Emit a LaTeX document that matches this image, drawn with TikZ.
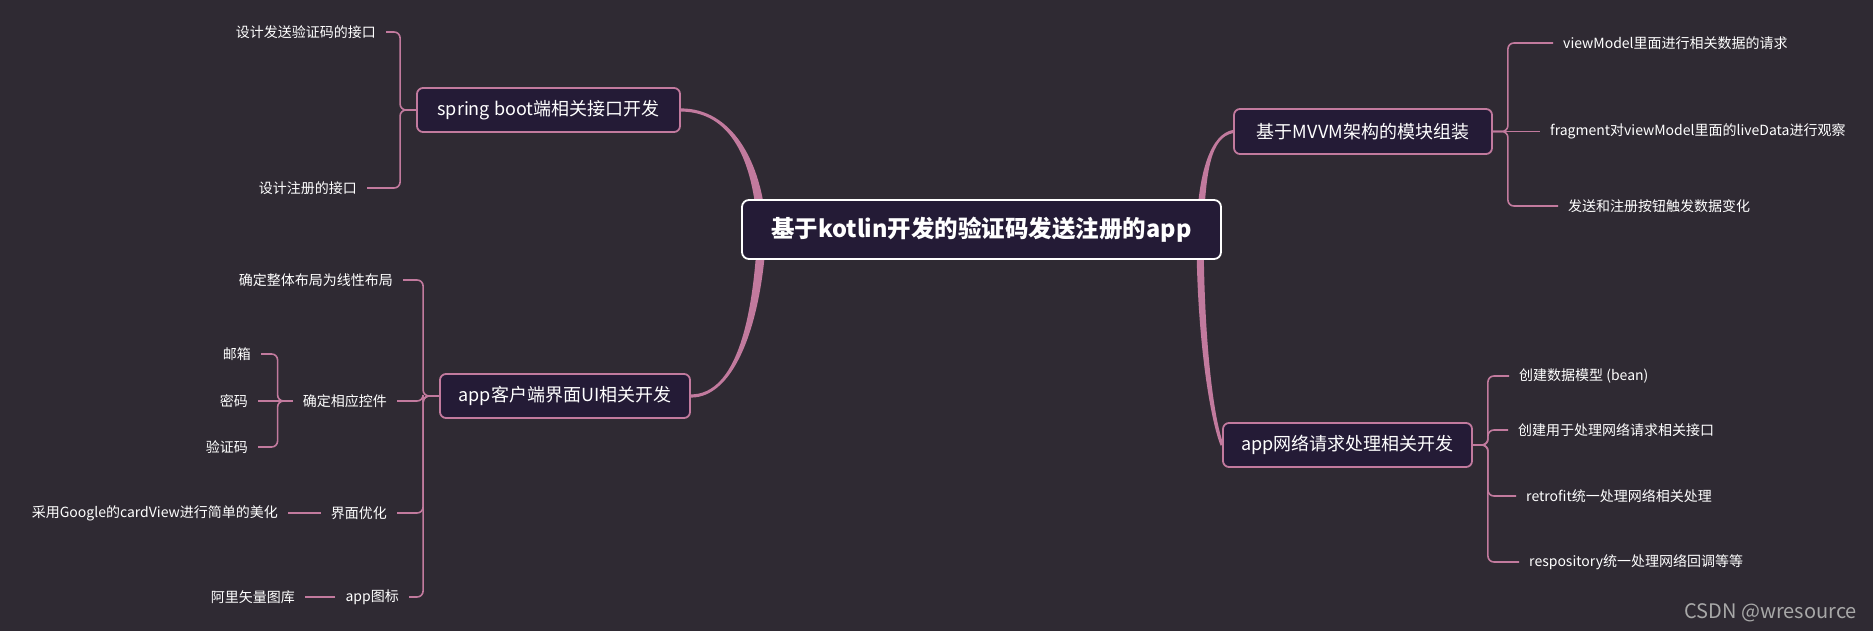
\documentclass[tikz,border=0pt]{standalone}
\usepackage{fontspec}
\setmainfont{Noto Sans CJK SC}
\usetikzlibrary{calc}
\pgfdeclarelayer{trunks}
\pgfsetlayers{trunks,main}
\definecolor{bgc}{HTML}{2F2A33}
\definecolor{boxc}{HTML}{241B36}
\definecolor{linec}{HTML}{C27A9E}
\definecolor{wmc}{HTML}{A8A8A8}
\tikzset{
  br/.style={draw=linec, line width=1.6pt, rounded corners=6pt},
  trunk/.style={fill=linec, draw=none},
  branchbox/.style={draw=linec, line width=1.8pt, fill=boxc, rounded corners=6pt, text=white,
    font=\fontsize{18}{20}\selectfont, inner sep=0pt},
  rootbox/.style={draw=white, line width=1.8pt, fill=boxc, rounded corners=7pt, text=white,
    font=\bfseries\fontsize{23.5}{26}\selectfont, minimum width=479pt, minimum height=59pt, inner sep=0pt},
  leaf/.style={text=white, font=\fontsize{14}{16}\selectfont, inner xsep=10pt, inner ysep=2pt},
  leafL/.style={leaf, anchor=east},
  leafR/.style={leaf, anchor=west},
}
\begin{document}
\begin{tikzpicture}[x=1pt, y=-1pt]
\begin{pgfonlayer}{trunks}
\fill[bgc] (0,0) rectangle (1873,631);
\end{pgfonlayer}
\useasboundingbox (0,0) rectangle (1873,631);

% trunk anchor points inside the root box
\coordinate (rL) at (762,230);
\coordinate (rR) at (1200,230);

% root
\node[rootbox] (root) at (981.5,229.5) {基于kotlin开发的验证码发送注册的app};

% branch boxes
\node[branchbox, minimum width=263pt, minimum height=44pt] (sb) at (548.5,110) {spring boot端相关接口开发};
\node[branchbox, minimum width=250pt, minimum height=44pt] (ui) at (565,396) {app客户端界面UI相关开发};
\node[branchbox, minimum width=258pt, minimum height=45pt] (mv) at (1363,131.5) {基于MVVM架构的模块组装};
\node[branchbox, minimum width=249pt, minimum height=44pt] (net) at (1347.5,445) {app网络请求处理相关开发};

% tapered trunks (behind the boxes)
\begin{pgfonlayer}{trunks}
\fill[trunk] ($(sb.east)+(0,-1.6)$) .. controls ($(sb.east)+(50,-1.6)$) and ($(rL)+(0.5,-70)$) .. ($(rL)+(4.5,0)$)
  -- ($(rL)+(-4.5,0)$) .. controls ($(rL)+(-8.5,-70)$) and ($(sb.east)+(50,1.6)$) .. ($(sb.east)+(0,1.6)$) -- cycle;
\fill[trunk] ($(rL)+(4.5,0)$) .. controls ($(rL)+(0.5,90)$) and ($(ui.east)+(45,1.6)$) .. ($(ui.east)+(0,1.6)$)
  -- ($(ui.east)+(0,-1.6)$) .. controls ($(ui.east)+(45,-1.6)$) and ($(rL)+(-8.5,90)$) .. ($(rL)+(-4.5,0)$) -- cycle;
\fill[trunk] ($(rR)+(-3.6,0)$) .. controls ($(rR)+(-1.6,-60)$) and ($(mv.west)+(-22,2.4)$) .. ($(mv.west)+(0,-1.6)$)
  -- ($(mv.west)+(0,1.6)$) .. controls ($(mv.west)+(-22,5.6)$) and ($(rR)+(5.6,-60)$) .. ($(rR)+(3.6,0)$) -- cycle;
\fill[trunk] ($(rR)+(3.6,0)$) .. controls ($(rR)+(3.6,110)$) and ($(net.west)+(-8.5,-25.6)$) .. ($(net.west)+(1.5,-0.6)$)
  -- ($(net.west)+(-1.5,0.6)$) .. controls ($(net.west)+(-11.5,-24.4)$) and ($(rR)+(-3.6,110)$) .. ($(rR)+(-3.6,0)$) -- cycle;
\end{pgfonlayer}

% left branch 1 leaves
\node[leafL] (c11) at (386,32) {设计发送验证码的接口};
\node[leafL] (c12) at (367,188) {设计注册的接口};
\draw[br] (sb.west) -- ++(-16,0) |- (c11.east);
\draw[br] (sb.west) -- ++(-16,0) |- (c12.east);

% left branch 2 leaves
\node[leafL] (c21) at (403,280) {确定整体布局为线性布局};
\node[leafL] (c22) at (397,401) {确定相应控件};
\node[leafL] (c23) at (397,513) {界面优化};
\node[leafL] (c24) at (409,597) {app图标};
\draw[br] (ui.west) -- ++(-16,0) |- (c21.east);
\draw[br] (ui.west) -- ++(-16,0) |- (c22.east);
\draw[br] (ui.west) -- ++(-16,0) |- (c23.east);
\draw[br] (ui.west) -- ++(-16,0) |- (c24.east);

% sub leaves of c22
\node[leafL] (m1) at (261,354) {邮箱};
\node[leafL] (m2) at (258,401) {密码};
\node[leafL] (m3) at (258,447) {验证码};
\draw[br] (c22.west) -- ++(-15,0) |- (m1.east);
\draw[br] (c22.west) -- (m2.east);
\draw[br] (c22.west) -- ++(-15,0) |- (m3.east);

% sub leaves of c23, c24
\node[leafL] (g1) at (288,513) {采用Google的cardView进行简单的美化};
\node[leafL] (g2) at (305,597) {阿里矢量图库};
\draw[br] (c23.west) -- (g1.east);
\draw[br] (c24.west) -- (g2.east);

% right branch 1 leaves
\node[leafR] (v1) at (1553,43) {viewModel里面进行相关数据的请求};
\node[leafR] (v2) at (1540,131.5) {fragment对viewModel里面的liveData进行观察};
\node[leafR] (v3) at (1558,206) {发送和注册按钮触发数据变化};
\draw[br] (mv.east) -- ++(15,0) |- (v1.west);
\draw[br] (mv.east) -- (v2.west);
\draw[br] (mv.east) -- ++(15,0) |- (v3.west);

% right branch 2 leaves
\node[leafR] (n1) at (1509,376) {创建数据模型 (bean)};
\node[leafR] (n2) at (1508,430) {创建用于处理网络请求相关接口};
\node[leafR] (n3) at (1516,496) {retrofit统一处理网络相关处理};
\node[leafR] (n4) at (1519,562) {respository统一处理网络回调等等};
\draw[br] (net.east) -- ++(15,0) |- (n1.west);
\draw[br] (net.east) -- ++(15,0) |- (n2.west);
\draw[br] (net.east) -- ++(15,0) |- (n3.west);
\draw[br] (net.east) -- ++(15,0) |- (n4.west);

% watermark
\node[anchor=east, text=wmc, font=\fontsize{20}{22}\selectfont, inner sep=0pt] (wm) at (1857,613) {CSDN @wresource};
\end{tikzpicture}
\end{document}
